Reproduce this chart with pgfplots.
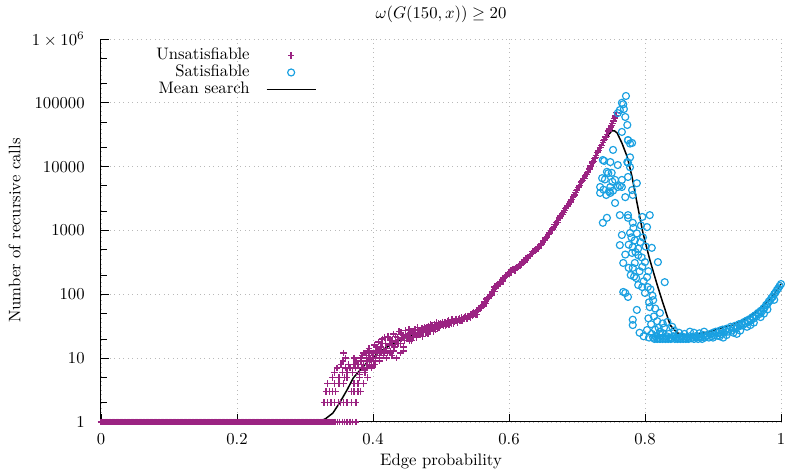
\documentclass[border=0pt]{standalone}
\usepackage{pgfplots}
\pgfplotsset{compat=1.18}

\definecolor{unsat}{RGB}{155,35,130}
\definecolor{sat}{RGB}{25,160,225}

\pgfplotsset{
    markleg/.style={legend image code/.code={\draw[##1] plot coordinates {(0.52cm,0cm)};}},
    lineleg/.style={legend image code/.code={\draw[##1] (0cm,0cm) -- (1.04cm,0cm);}},
}

\begin{document}
\begin{tikzpicture}
\begin{axis}[
    at={(0,0)}, anchor=south west,
    scale only axis,
    width=408pt, height=229.8pt,
    xmin=0, xmax=1,
    ymode=log, ymin=1, ymax=1000000,
    xtick={0,0.2,0.4,0.6,0.8,1},
    ytick={1,10,100,1000,10000,100000,1000000},
    yticklabels={1,10,100,1000,10000,100000,$1\times10^6$},
    minor ytick={2,5,20,50,200,500,2000,5000,20000,50000,200000,500000},
    axis lines*=left,
    axis line style={line width=0.6pt},
    tick align=inside,
    major tick length=5pt,
    minor tick length=3.5pt,
    tick style={black, line width=0.5pt},
    grid=major,
    major grid style={dash pattern=on 0.5pt off 2.2pt, gray!55, line width=0.5pt},
    yticklabel style={xshift=-6.3pt},
    xticklabel style={yshift=-3.3pt},
    title={$\omega(G(150,x)) \geq 20$},
    every axis title/.style={at={(axis description cs:0.5,1.0548)}, anchor=base},
    xlabel={Edge probability},
    every axis x label/.style={at={(axis description cs:0.5,-0.1149)}, anchor=base},
    ylabel={Number of recursive calls},
    every axis y label/.style={at={(axis description cs:-0.1184,0.5)}, rotate=90, anchor=base},
    clip=false,
    legend plot pos=right,
    legend cell align=right,
    legend style={draw=none, fill=none, inner sep=0pt,
        at={(axis description cs:0.3175,0.980)}, anchor=north east,
        column sep=9.2pt, row sep=0pt,
        nodes={inner sep=0.5pt, text height=7pt, text depth=2.2pt}},
]

% unsatisfiable instances
\addplot[only marks, mark=+, color=unsat, mark size=2pt,
    mark options={draw=unsat, line width=0.8pt}, markleg]
    coordinates {
    (0,1)(0.002,1)(0.004,1)(0.006,1)(0.008,1)(0.01,1)(0.012,1)(0.014,1)(0.016,1)(0.018,1)
    (0.02,1)(0.022,1)(0.024,1)(0.026,1)(0.028,1)(0.03,1)(0.032,1)(0.034,1)(0.036,1)(0.038,1)
    (0.04,1)(0.042,1)(0.044,1)(0.046,1)(0.048,1)(0.05,1)(0.052,1)(0.054,1)(0.056,1)(0.058,1)
    (0.06,1)(0.062,1)(0.064,1)(0.066,1)(0.068,1)(0.07,1)(0.072,1)(0.074,1)(0.076,1)(0.078,1)
    (0.08,1)(0.082,1)(0.084,1)(0.086,1)(0.088,1)(0.09,1)(0.092,1)(0.094,1)(0.096,1)(0.098,1)
    (0.1,1)(0.102,1)(0.104,1)(0.106,1)(0.108,1)(0.11,1)(0.112,1)(0.114,1)(0.116,1)(0.118,1)
    (0.12,1)(0.122,1)(0.124,1)(0.126,1)(0.128,1)(0.13,1)(0.132,1)(0.134,1)(0.136,1)(0.138,1)
    (0.14,1)(0.142,1)(0.144,1)(0.146,1)(0.148,1)(0.15,1)(0.152,1)(0.154,1)(0.156,1)(0.158,1)
    (0.16,1)(0.162,1)(0.164,1)(0.166,1)(0.168,1)(0.17,1)(0.172,1)(0.174,1)(0.176,1)(0.178,1)
    (0.18,1)(0.182,1)(0.184,1)(0.186,1)(0.188,1)(0.19,1)(0.192,1)(0.194,1)(0.196,1)(0.198,1)
    (0.2,1)(0.202,1)(0.204,1)(0.206,1)(0.208,1)(0.21,1)(0.212,1)(0.214,1)(0.216,1)(0.218,1)
    (0.22,1)(0.222,1)(0.224,1)(0.226,1)(0.228,1)(0.23,1)(0.232,1)(0.234,1)(0.236,1)(0.238,1)
    (0.24,1)(0.242,1)(0.244,1)(0.246,1)(0.248,1)(0.25,1)(0.252,1)(0.254,1)(0.256,1)(0.258,1)
    (0.26,1)(0.262,1)(0.264,1)(0.266,1)(0.268,1)(0.27,1)(0.272,1)(0.274,1)(0.276,1)(0.278,1)
    (0.28,1)(0.282,1)(0.284,1)(0.286,1)(0.288,1)(0.29,1)(0.292,1)(0.294,1)(0.296,1)(0.298,1)
    (0.3,1)(0.302,1)(0.304,1)(0.306,1)(0.308,1)(0.31,1)(0.312,1)(0.314,1)(0.316,1)(0.318,1)
    (0.32,1)(0.322,1)(0.324,1)(0.326,1)(0.328,1)(0.33,1)(0.332,1)(0.334,1)(0.336,1)(0.338,1)
    (0.34,1)(0.3425,1)(0.345,1)(0.348,1)
    (0.351,1)(0.355,1)(0.358,1)(0.362,1)(0.366,1)(0.370,1)(0.375,1)
    (0.328,2)(0.333,2)(0.338,2)(0.343,2)(0.349,2)(0.352,2)(0.357,2)(0.362,2)(0.368,2)(0.375,2)
    (0.331,3)(0.336,3)(0.340,3)(0.345,3)(0.368,3)(0.372,3)(0.378,3)(0.382,3)
    (0.333,4)(0.343,4)(0.350,4)(0.357,4)(0.372,4)(0.378,4)(0.386,4)
    (0.340,5)(0.350,5)(0.358,5)(0.362,5)(0.380,5)(0.392,5)
    (0.343,6)(0.355,6)(0.362,6)(0.370,6)(0.380,6)(0.388,6)
    (0.347,7)(0.360,7)(0.366,7)(0.374,7)(0.390,7)(0.398,7)
    (0.353,8)(0.364,8)(0.372,8)(0.378,8)(0.386,8)(0.395,8)(0.403,8)
    (0.356,9)(0.375,9)(0.383,9)(0.390,9)(0.398,9)(0.410,9)
    (0.360,10)(0.372,10)(0.382,10)(0.390,10)(0.400,10)(0.410,10)(0.420,10)(0.435,10)
    (0.384,11)(0.394,11)(0.405,11)(0.415,11)(0.428,11)
    (0.357,12)(0.388,12)(0.398,12)(0.412,12)(0.425,12)(0.440,12)
    (0.392,13)(0.404,13)(0.418,13)(0.430,13)(0.445,13)
    (0.380,5.5)(0.382,9)(0.384,7)(0.386,12)(0.388,6.5)(0.390,11)(0.392,8)(0.394,14)
    (0.396,9.5)(0.398,7.5)(0.400,12)(0.402,16)(0.404,10)(0.406,13)(0.408,18)(0.410,11)
    (0.412,15)(0.414,20)(0.416,12.5)(0.418,17)(0.420,14)(0.422,22)(0.424,16)(0.426,13)
    (0.428,19)(0.430,24)(0.432,15)(0.434,18)(0.436,21)(0.438,26)(0.440,17)(0.442,20)
    (0.444,23)(0.446,19)(0.448,27)(0.450,21)(0.452,24)(0.454,18.5)(0.456,26)(0.458,22)
    (0.460,25)(0.462,28)(0.464,21)(0.466,24)(0.468,27)(0.470,23)(0.472,29)(0.474,26)
    (0.476,30)(0.478,25)(0.480,28)(0.482,32)(0.484,27)(0.486,31)(0.488,29)(0.490,34)
    (0.492,28)(0.494,32)(0.496,35)(0.498,31)(0.500,33)(0.502,37)(0.504,32)(0.506,36)
    (0.508,34)(0.510,38)(0.512,33)(0.514,37)(0.516,40)(0.518,35)(0.520,38)(0.522,41)
    (0.524,36)(0.526,40)(0.528,39)(0.530,43)(0.532,40)(0.534,42)(0.536,45)(0.538,41)
    (0.540,46)(0.542,44)(0.544,49)(0.546,47)(0.548,52)(0.550,50)(0.552,55)(0.554,56)
    (0.556,61)(0.558,60)(0.560,67)(0.562,70)(0.564,76)(0.566,78)(0.568,88)(0.570,86)
    (0.572,100)(0.574,98)(0.576,112)(0.578,118)(0.580,124)(0.582,138)(0.584,140)(0.586,152)
    (0.588,160)(0.590,168)(0.592,180)(0.594,186)(0.596,198)(0.598,205)(0.600,212)(0.602,225)
    (0.604,228)(0.606,242)(0.608,248)(0.610,258)(0.612,268)(0.614,275)(0.616,292)(0.618,296)
    (0.620,312)(0.622,328)(0.624,340)(0.626,362)(0.628,378)(0.630,400)(0.632,418)(0.634,440)
    (0.636,458)(0.638,482)(0.640,512)(0.642,530)(0.644,560)(0.646,590)(0.648,615)(0.650,660)
    (0.652,700)(0.654,760)(0.656,810)(0.658,860)(0.660,930)(0.662,1000)(0.664,1060)(0.666,1140)
    (0.668,1240)(0.670,1340)(0.672,1440)(0.674,1560)(0.676,1680)(0.678,1800)(0.680,1920)(0.682,2080)
    (0.684,2250)(0.686,2420)(0.688,2600)(0.690,2800)(0.692,3050)(0.694,3350)(0.696,3600)(0.698,3950)
    (0.700,4300)(0.702,4700)(0.704,5100)(0.706,5600)(0.708,6000)(0.710,6500)(0.712,7100)(0.714,7600)
    (0.716,8400)(0.718,9200)(0.720,10200)(0.722,11100)(0.724,12000)(0.726,13500)(0.728,14800)(0.730,16500)
    (0.732,18000)(0.734,19800)(0.736,21500)(0.738,24000)(0.740,26500)(0.742,29000)(0.744,32000)(0.746,36000)
    (0.748,39000)(0.750,42000)(0.752,47000)(0.754,52000)(0.756,60000)(0.758,70000)
    (0.553,48)(0.566,72)(0.579,130)(0.591,160)(0.603,240)(0.609,236)(0.617,280)(0.625,370)
    (0.401,9)(0.405,15)(0.409,13)(0.413,17)(0.417,21)(0.421,12)(0.425,19)(0.429,16)
    (0.433,22)(0.437,17)(0.441,25)(0.445,15)(0.449,22)(0.453,28)(0.457,19)(0.461,24)
    (0.465,30)(0.469,26)(0.473,22)(0.477,27)(0.481,24)(0.485,34)(0.489,26)(0.493,36)(0.497,30)
    (0.451,23)(0.455,20)(0.459,26)(0.463,23)(0.467,27)(0.471,25)(0.475,28)(0.479,30)
    (0.483,26)(0.487,33)(0.491,30)(0.495,29)(0.499,35)(0.503,34)(0.507,32)(0.511,39)
    (0.515,35)(0.519,37)(0.523,39)(0.527,42)(0.531,38)(0.535,43)(0.539,45)(0.543,43)
    (0.547,50)(0.551,48)(0.555,58)(0.559,62)(0.563,68)(0.567,84)(0.571,92)(0.575,104)
    (0.579,112)(0.583,145)(0.587,148)(0.591,178)(0.595,190)(0.599,218)(0.603,218)(0.607,250)
    (0.611,262)(0.615,282)(0.619,318)(0.623,322)(0.627,380)(0.631,398)(0.635,465)(0.639,480)
    (0.643,560)(0.647,580)(0.651,700)(0.655,770)(0.659,910)(0.663,1000)(0.667,1230)(0.671,1350)
    (0.675,1650)(0.679,1800)(0.683,2200)(0.687,2450)(0.691,2950)(0.695,3400)(0.699,4200)(0.703,4800)
    (0.707,5900)(0.711,6600)(0.715,8100)(0.719,9500)(0.723,11800)(0.727,13800)(0.731,17500)(0.735,20000)
    (0.739,25500)(0.743,30000)(0.747,38000)(0.751,44000)(0.755,57000)(0.757,64000)
    };
\addlegendentry{Unsatisfiable}

% satisfiable instances
\addplot[only marks, mark=o, color=sat, mark size=2.1pt,
    mark options={draw=sat, line width=0.7pt}, markleg]
    coordinates {
    (0.772,128000)(0.766,100000)(0.768,95000)(0.763,77000)(0.760,69000)(0.769,80000)
    (0.771,60000)(0.774,45000)(0.766,35000)(0.775,26000)(0.778,23000)(0.753,18300)
    (0.738,12700)(0.749,11800)(0.778,14000)(0.775,11500)(0.760,10600)(0.744,8300)
    (0.751,8000)(0.737,6600)(0.741,6300)(0.734,4800)(0.749,4800)(0.756,6200)
    (0.760,4800)(0.734,3880)(0.749,3880)(0.771,3330)(0.756,2700)(0.775,6900)
    (0.788,5500)(0.782,3600)(0.744,1580)(0.738,1320)(0.775,1740)(0.782,1320)
    (0.796,1630)(0.807,1740)(0.803,1130)(0.778,915)(0.766,850)(0.793,660)
    (0.763,590)(0.782,550)(0.810,535)(0.781,445)(0.790,410)(0.768,310)
    (0.785,310)(0.796,270)(0.819,320)(0.782,260)(0.803,186)(0.829,155)
    (0.768,109)(0.771,105)(0.775,91)(0.804,130)(0.800,105)(0.812,81)
    (0.807,63)(0.788,57)(0.822,51)(0.782,40)(0.782,33)(0.803,27.6)(0.826,24.7)
    (0.740,12300)(0.746,7900)(0.739,4350)(0.747,4100)(0.753,4200)(0.752,5800)
    (0.743,3600)(0.766,4800)(0.781,4300)(0.778,9800)(0.774,11800)(0.775,26000)
    (0.781,23500)(0.763,1740)(0.775,1580)(0.766,6200)(0.763,5000)
    (0.785,700)(0.790,520)(0.795,380)(0.786,460)(0.792,230)(0.798,160)(0.800,320)
    (0.805,230)(0.788,900)(0.783,1100)(0.797,780)(0.801,560)(0.794,1200)(0.808,120)
    (0.811,95)(0.806,75)(0.815,60)(0.813,45)(0.818,38)(0.809,34)(0.820,30)(0.805,42)
    (0.790,140)(0.787,180)(0.779,200)(0.776,260)(0.771,420)(0.776,600)(0.780,780)
    (0.784,190)(0.796,130)(0.792,25)(0.798,22)(0.806,21)(0.810,24)
    (0.812,21)(0.814,20)(0.816,22)(0.818,20)(0.820,21)(0.822,20)(0.824,23)(0.826,20)
    (0.828,21)(0.830,20)(0.832,22)(0.834,20)(0.836,21)(0.838,20)(0.840,20.5)(0.842,22)
    (0.844,20)(0.846,21)(0.848,20)(0.850,21)(0.852,20)(0.854,22)(0.856,20)(0.858,21)
    (0.860,20)(0.862,21.5)(0.864,20)(0.866,22)(0.868,20.5)(0.870,21)(0.872,20)(0.874,22)
    (0.876,21)(0.878,20)(0.880,22)(0.882,21)(0.884,20)(0.886,23)(0.888,21)(0.890,22)
    (0.822,26)(0.828,30)(0.835,24)(0.843,27)(0.850,25)(0.858,24)(0.866,26)(0.872,25)
    (0.880,24.5)(0.887,26)(0.840,31)(0.826,35)(0.815,28)(0.833,37)
    (0.892,23)(0.894,21)(0.896,24)(0.898,22)(0.900,25)(0.902,23)(0.904,26)(0.906,22.5)
    (0.908,25)(0.910,27)(0.912,24)(0.914,28)(0.916,25)(0.918,27)(0.920,29)(0.922,26)
    (0.924,28)(0.926,31)(0.928,27)(0.930,30)(0.932,32)(0.934,29)(0.936,31)(0.938,34)
    (0.940,32)(0.942,35)(0.944,33)(0.946,37)(0.948,35)(0.950,39)(0.952,37)(0.954,41)
    (0.956,39)(0.958,44)(0.960,42)(0.962,47)(0.964,45)(0.966,51)(0.968,49)(0.970,55)
    (0.972,54)(0.974,60)(0.976,62)(0.978,68)(0.980,70)(0.982,77)(0.984,80)(0.986,88)
    (0.988,92)(0.990,101)(0.992,107)(0.994,117)(0.996,124)(0.998,135)(1.000,145)
    (0.900,21)(0.910,22)(0.920,23)(0.930,25)(0.940,27)(0.950,31)(0.960,36)(0.970,44)
    (0.980,58)(0.990,82)(0.915,21)(0.935,24)(0.955,33)(0.975,50)
    };
\addlegendentry{Satisfiable}

% mean over all instances
\addplot[color=black, line width=0.9pt, lineleg]
    coordinates {
    (0,1)(0.31,1)(0.32,1.02)(0.33,1.12)(0.341,1.38)(0.351,2.0)(0.362,3.2)(0.371,4.9)
    (0.381,6.5)(0.390,8.3)(0.400,10.4)(0.410,12.6)(0.421,15)(0.430,17)(0.440,19.3)
    (0.455,22.5)(0.469,25.7)(0.484,30)(0.500,33.5)(0.513,36)(0.532,41)(0.547,47.6)
    (0.557,57)(0.568,76)(0.576,105)(0.587,150)(0.601,215)(0.616,288)(0.631,415)
    (0.650,660)(0.665,1100)(0.675,1630)(0.694,3330)(0.705,5200)(0.715,7960)(0.722,11000)
    (0.729,16300)(0.737,22500)(0.744,29300)(0.751,36300)(0.755,36500)(0.759,33700)
    (0.766,23500)(0.774,14100)(0.781,6900)(0.788,2800)(0.797,915)(0.807,350)(0.812,230)
    (0.818,140)(0.826,75)(0.837,33)(0.847,25)(0.858,23)(0.870,23)(0.885,24.5)(0.905,28)
    (0.920,31)(0.935,35)(0.950,42)(0.962,52)(0.975,68)(0.988,95)(1.0,145)
    };
\addlegendentry{Mean search}
\end{axis}
\pgfresetboundingbox
\path[use as bounding box] (-60.6pt,-29.4pt) rectangle (410.4pt,253.2pt);
\end{tikzpicture}
\end{document}
